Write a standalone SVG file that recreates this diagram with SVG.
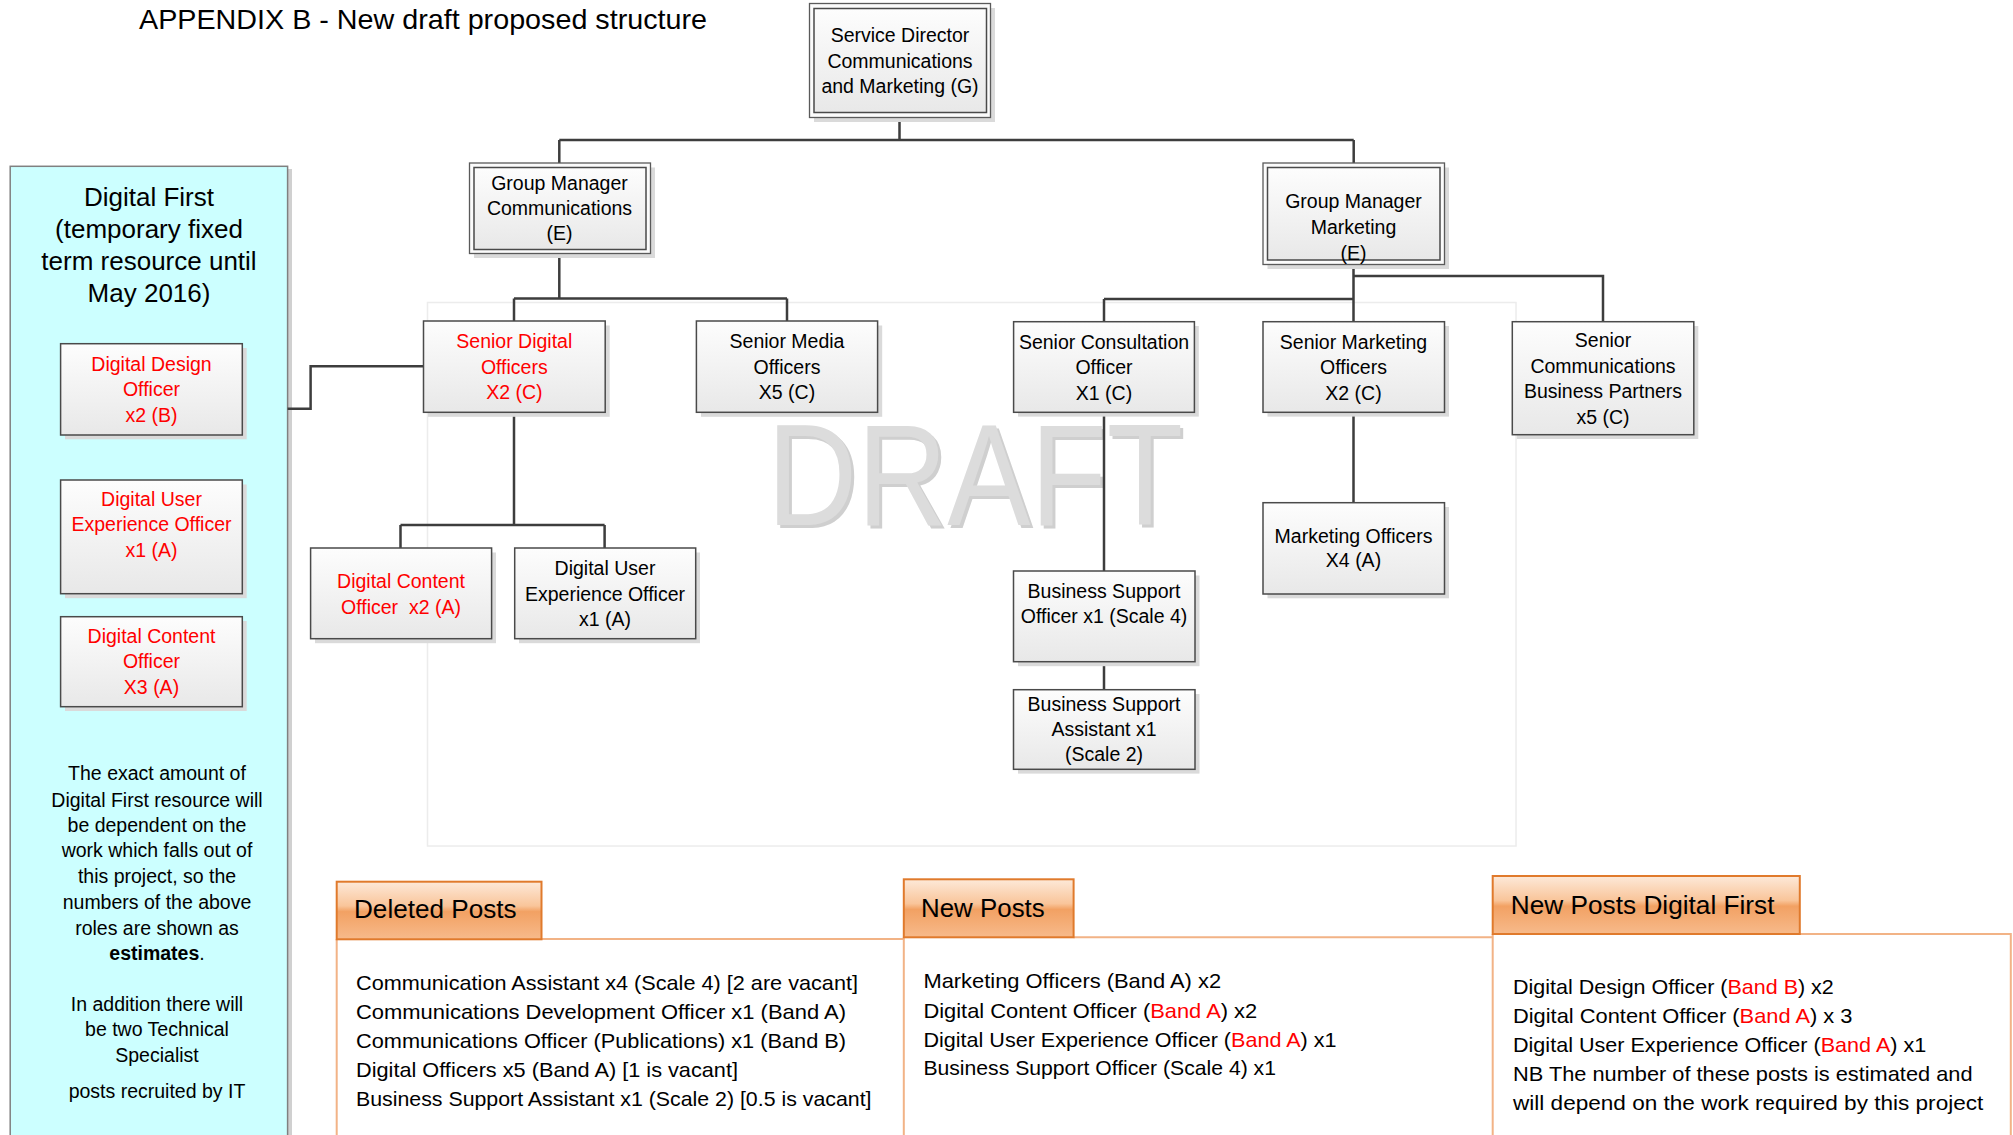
<svg xmlns="http://www.w3.org/2000/svg" width="2013" height="1135" viewBox="0 0 2013 1135">
<defs>
<linearGradient id="ng" x1="0" y1="0" x2="0" y2="1">
<stop offset="0" stop-color="#fdfdfd"/>
<stop offset="1" stop-color="#e8e8e8"/>
</linearGradient>
<linearGradient id="tg" x1="0" y1="0" x2="0" y2="1">
<stop offset="0" stop-color="#fde9d9"/>
<stop offset="0.42" stop-color="#f9c59a"/>
<stop offset="0.52" stop-color="#f2a163"/>
<stop offset="1" stop-color="#f7ba8b"/>
</linearGradient>
<style>
.box{fill:url(#ng);stroke:#4a4a4a;stroke-width:1.5}
.outer{fill:#fbfbfb;stroke:#5a5a5a;stroke-width:1.3}
.sh{fill:#dadada}
.t{font-family:"Liberation Sans",Arial,sans-serif;font-size:19.5px;fill:#000;text-anchor:middle}
.r{fill:#ff0000}
.l{font-family:"Liberation Sans",Arial,sans-serif;font-size:21px;fill:#000}
.tab{fill:url(#tg);stroke:#e07a2c;stroke-width:2}
.tabt{font-family:"Liberation Sans",Arial,sans-serif;font-size:25px;fill:#000}
.cont{fill:none;stroke:#f2b386;stroke-width:2}
.con{fill:none;stroke:#3d3d3d;stroke-width:2.5}
.wm{font-family:"Liberation Sans",Arial,sans-serif;font-size:144px}
</style>
</defs>
<rect width="2013" height="1135" fill="#ffffff"/>

<!-- faint frame and watermark -->
<rect x="427.5" y="302.5" width="1088.5" height="543.5" fill="none" stroke="#ececec" stroke-width="1.5"/>
<text class="wm" x="770" y="528" fill="#cfcfcf" textLength="416" lengthAdjust="spacingAndGlyphs">DRAFT</text>
<text class="wm" x="767" y="525" fill="#dcdcdc" textLength="416" lengthAdjust="spacingAndGlyphs">DRAFT</text>

<!-- title -->
<text x="139" y="29" font-family="Liberation Sans,Arial,sans-serif" font-size="28" fill="#000" textLength="568" lengthAdjust="spacingAndGlyphs">APPENDIX B - New draft proposed structure</text>

<!-- Digital First panel -->
<g id="digital-first">
<rect x="288" y="169" width="4" height="970" fill="#d0d0d0"/>
<rect x="10.2" y="166.3" width="277.4" height="975" fill="#ccffff" stroke="#808080" stroke-width="1.5"/>
<text class="t" style="font-size:26px"><tspan x="149" y="205.5">Digital First</tspan><tspan x="149" y="237.5">(temporary fixed</tspan><tspan x="149" y="269.5">term resource until</tspan><tspan x="149" y="301.5">May 2016)</tspan></text>
<text class="t"><tspan x="157" y="780">The exact amount of</tspan><tspan x="157" y="807">Digital First resource will</tspan><tspan x="157" y="832">be dependent on the</tspan><tspan x="157" y="857">work which falls out of</tspan><tspan x="157" y="883">this project, so the</tspan><tspan x="157" y="909">numbers of the above</tspan><tspan x="157" y="935">roles are shown as</tspan><tspan x="157" y="960" font-weight="bold">estimates</tspan><tspan>.</tspan><tspan x="157" y="1011">In addition there will</tspan><tspan x="157" y="1036">be two Technical</tspan><tspan x="157" y="1062">Specialist</tspan><tspan x="157" y="1098">posts recruited by IT</tspan></text>
</g>
<g id="df-design">
<rect class="sh" x="65" y="348" width="181.7" height="91.3"/>
<rect class="box" x="60.6" y="343.7" width="181.7" height="91.3"/>
<text class="t r"><tspan x="151.5" y="371">Digital Design</tspan><tspan x="151.5" y="396">Officer</tspan><tspan x="151.5" y="422">x2 (B)</tspan></text>
</g>
<g id="df-ux">
<rect class="sh" x="65" y="484.5" width="181.7" height="113.7"/>
<rect class="box" x="60.6" y="480" width="181.7" height="113.7"/>
<text class="t r"><tspan x="151.5" y="506">Digital User</tspan><tspan x="151.5" y="531">Experience Officer</tspan><tspan x="151.5" y="557">x1 (A)</tspan></text>
</g>
<g id="df-content">
<rect class="sh" x="65" y="621" width="181.7" height="90"/>
<rect class="box" x="60.6" y="616.7" width="181.7" height="90"/>
<text class="t r"><tspan x="151.5" y="643">Digital Content</tspan><tspan x="151.5" y="668">Officer</tspan><tspan x="151.5" y="694">X3 (A)</tspan></text>
</g>

<!-- connectors -->
<g id="connectors">
<path class="con" d="M899.5,117.3 V140 M559.3,140 H1353.7 M559.3,140 V163 M1353.7,140 V163"/>
<path class="con" d="M559.3,253.5 V298.5 M514,298.5 H787 M514,298.5 V321 M787,298.5 V321"/>
<path class="con" d="M1353.5,264.5 V321.7 M1353.5,276 H1603 V321.7 M1104,299 H1353.5 M1104,299 V321.7"/>
<path class="con" d="M1104,412.3 V571 M1104,661.7 V689.7 M1353.5,412.3 V502.7"/>
<path class="con" d="M514,412.3 V525 M400.5,525 H604.6 M400.5,525 V548 M604.6,525 V548"/>
<path class="con" d="M287.6,408.7 H310.6 V366.3 H423.5"/>
</g>

<!-- nodes -->
<g id="service-director">
<rect class="sh" x="814" y="8" width="181" height="114"/>
<rect class="outer" x="809.5" y="3.5" width="181" height="114"/>
<rect class="box" x="814" y="8.5" width="172.5" height="104"/>
<text class="t"><tspan x="900" y="42">Service Director</tspan><tspan x="900" y="67.5">Communications</tspan><tspan x="900" y="93">and Marketing (G)</tspan></text>
</g>
<g id="gm-comms">
<rect class="sh" x="474" y="167.5" width="181" height="90.5"/>
<rect class="outer" x="469.5" y="163" width="181" height="90.5"/>
<rect class="box" x="474" y="167.5" width="172" height="82"/>
<text class="t"><tspan x="559.5" y="190">Group Manager</tspan><tspan x="559.5" y="215">Communications</tspan><tspan x="559.5" y="240">(E)</tspan></text>
</g>
<g id="gm-marketing">
<rect class="sh" x="1267.5" y="167.5" width="181.5" height="101.5"/>
<rect class="outer" x="1263" y="163" width="181.5" height="101.5"/>
<rect class="box" x="1267.5" y="167.5" width="172.5" height="92.5"/>
<text class="t"><tspan x="1353.5" y="208">Group Manager</tspan><tspan x="1353.5" y="234">Marketing</tspan><tspan x="1353.5" y="260">(E)</tspan></text>
</g>
<g id="senior-digital">
<rect class="sh" x="428" y="325.5" width="181.7" height="91.3"/>
<rect class="box" x="423.5" y="321" width="181.7" height="91.3"/>
<text class="t r"><tspan x="514.3" y="348">Senior Digital</tspan><tspan x="514.3" y="374">Officers</tspan><tspan x="514.3" y="399">X2 (C)</tspan></text>
</g>
<g id="senior-media">
<rect class="sh" x="701" y="325.5" width="181.2" height="91.3"/>
<rect class="box" x="696.4" y="321" width="181.2" height="91.3"/>
<text class="t"><tspan x="787" y="348">Senior Media</tspan><tspan x="787" y="374">Officers</tspan><tspan x="787" y="399">X5 (C)</tspan></text>
</g>
<g id="senior-consultation">
<rect class="sh" x="1018" y="326" width="180.8" height="90.6"/>
<rect class="box" x="1013.6" y="321.7" width="180.8" height="90.6"/>
<text class="t"><tspan x="1104" y="349">Senior Consultation</tspan><tspan x="1104" y="374">Officer</tspan><tspan x="1104" y="400">X1 (C)</tspan></text>
</g>
<g id="senior-marketing">
<rect class="sh" x="1267.5" y="326" width="181.5" height="90.6"/>
<rect class="box" x="1263" y="321.7" width="181.5" height="90.6"/>
<text class="t"><tspan x="1353.5" y="349">Senior Marketing</tspan><tspan x="1353.5" y="374">Officers</tspan><tspan x="1353.5" y="400">X2 (C)</tspan></text>
</g>
<g id="senior-comms-bp">
<rect class="sh" x="1516.8" y="326" width="181.5" height="113"/>
<rect class="box" x="1512.3" y="321.7" width="181.5" height="113"/>
<text class="t"><tspan x="1603" y="347">Senior</tspan><tspan x="1603" y="372.5">Communications</tspan><tspan x="1603" y="398">Business Partners</tspan><tspan x="1603" y="423.5">x5 (C)</tspan></text>
</g>
<g id="marketing-officers">
<rect class="sh" x="1267.5" y="507" width="181.5" height="91.3"/>
<rect class="box" x="1263" y="502.7" width="181.5" height="91.3"/>
<text class="t"><tspan x="1353.5" y="542.5">Marketing Officers</tspan><tspan x="1353.5" y="567">X4 (A)</tspan></text>
</g>
<g id="bso">
<rect class="sh" x="1018" y="575.5" width="181.5" height="90.7"/>
<rect class="box" x="1013.5" y="571" width="181.5" height="90.7"/>
<text class="t"><tspan x="1104" y="598">Business Support</tspan><tspan x="1104" y="622.5">Officer x1 (Scale 4)</tspan></text>
</g>
<g id="bsa">
<rect class="sh" x="1018" y="694" width="181.5" height="79.6"/>
<rect class="box" x="1013.5" y="689.7" width="181.5" height="79.6"/>
<text class="t"><tspan x="1104" y="711">Business Support</tspan><tspan x="1104" y="736">Assistant x1</tspan><tspan x="1104" y="761">(Scale 2)</tspan></text>
</g>
<g id="dco">
<rect class="sh" x="315" y="552.5" width="181" height="90.7"/>
<rect class="box" x="310.6" y="548" width="181" height="90.7"/>
<text class="t r"><tspan x="401" y="588" xml:space="preserve">Digital Content</tspan><tspan x="401" y="614" xml:space="preserve">Officer  x2 (A)</tspan></text>
</g>
<g id="duxo">
<rect class="sh" x="519" y="552.5" width="181" height="90.7"/>
<rect class="box" x="514.7" y="548" width="181" height="90.7"/>
<text class="t"><tspan x="605" y="575">Digital User</tspan><tspan x="605" y="600.5">Experience Officer</tspan><tspan x="605" y="626">x1 (A)</tspan></text>
</g>

<!-- bottom tables -->
<g id="deleted-posts">
<path class="cont" d="M336.7,939 V1140 M541.5,939 H903.8"/>
<rect class="tab" x="336.7" y="881.7" width="204.8" height="57.6"/>
<text class="tabt" x="354" y="918" textLength="162.6" lengthAdjust="spacingAndGlyphs">Deleted Posts</text>
<text class="l" x="356" y="990" textLength="502" lengthAdjust="spacingAndGlyphs">Communication Assistant x4 (Scale 4) [2 are vacant]</text>
<text class="l" x="356" y="1019" textLength="490" lengthAdjust="spacingAndGlyphs">Communications Development Officer x1 (Band A)</text>
<text class="l" x="356" y="1047.5" textLength="490" lengthAdjust="spacingAndGlyphs">Communications Officer (Publications) x1 (Band B)</text>
<text class="l" x="356" y="1076.5" textLength="382" lengthAdjust="spacingAndGlyphs">Digital Officers x5 (Band A) [1 is vacant]</text>
<text class="l" x="356" y="1105.5" textLength="515.5" lengthAdjust="spacingAndGlyphs">Business Support Assistant x1 (Scale 2) [0.5 is vacant]</text>
</g>
<g id="new-posts">
<path class="cont" d="M903.8,937.3 V1140 M1073.6,937.3 H1492.7"/>
<rect class="tab" x="903.8" y="879.3" width="169.8" height="58"/>
<text class="tabt" x="921" y="917" textLength="123.7" lengthAdjust="spacingAndGlyphs">New Posts</text>
<text class="l" x="923.4" y="988" textLength="297.7" lengthAdjust="spacingAndGlyphs">Marketing Officers (Band A) x2</text>
<text class="l" x="923.4" y="1017.5" textLength="333.8" lengthAdjust="spacingAndGlyphs">Digital Content Officer (<tspan class="r">Band A</tspan>) x2</text>
<text class="l" x="923.4" y="1046.5" textLength="413.2" lengthAdjust="spacingAndGlyphs">Digital User Experience Officer (<tspan class="r">Band A</tspan>) x1</text>
<text class="l" x="923.4" y="1075" textLength="352.6" lengthAdjust="spacingAndGlyphs">Business Support Officer (Scale 4) x1</text>
</g>
<g id="new-posts-digital-first">
<path class="cont" d="M1492.7,934 V1140 M1799.8,934 H2010.8 V1140"/>
<rect class="tab" x="1492.7" y="876" width="307.1" height="58"/>
<text class="tabt" x="1510.8" y="914" textLength="263.7" lengthAdjust="spacingAndGlyphs">New Posts Digital First</text>
<text class="l" x="1513" y="994" textLength="320.8" lengthAdjust="spacingAndGlyphs">Digital Design Officer (<tspan class="r">Band B</tspan>) x2</text>
<text class="l" x="1513" y="1023" textLength="339.5" lengthAdjust="spacingAndGlyphs">Digital Content Officer (<tspan class="r">Band A</tspan>) x 3</text>
<text class="l" x="1513" y="1052" textLength="413.3" lengthAdjust="spacingAndGlyphs">Digital User Experience Officer (<tspan class="r">Band A</tspan>) x1</text>
<text class="l" x="1513" y="1081" textLength="459.5" lengthAdjust="spacingAndGlyphs">NB The number of these posts is estimated and</text>
<text class="l" x="1513" y="1110" textLength="470.3" lengthAdjust="spacingAndGlyphs">will depend on the work required by this project</text>
</g>
</svg>
